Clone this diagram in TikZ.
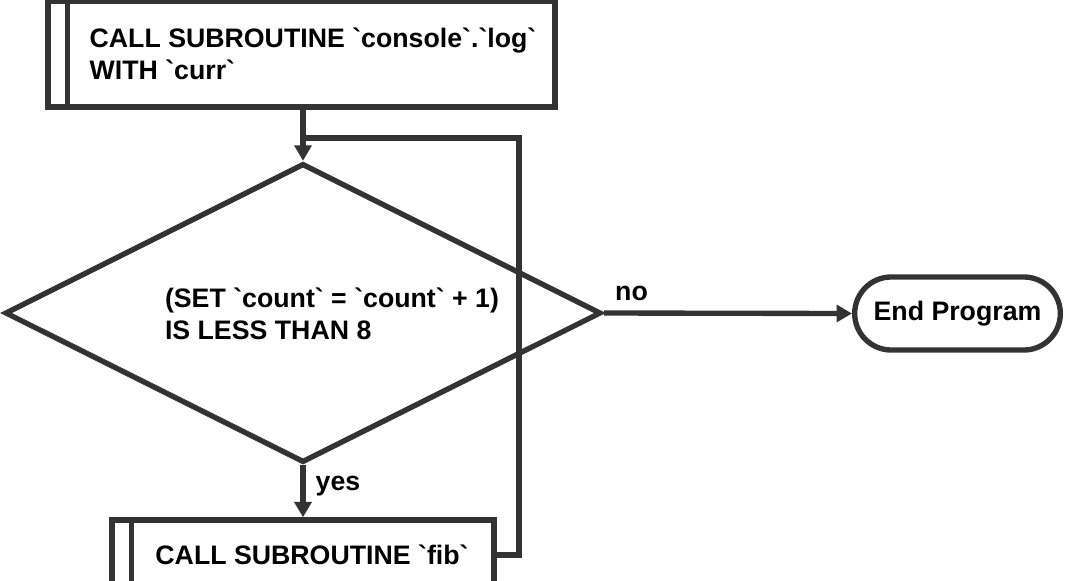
\documentclass[tikz,border=0pt]{standalone}
\usepackage{fontspec}
\newfontfamily\flowfont{Liberation Sans}
\usetikzlibrary{shapes.geometric,shapes.misc,arrows.meta}
\definecolor{linegray}{HTML}{333333}

\begin{document}
\begin{tikzpicture}[
    x=0.025cm,y=-0.025cm,
    txt/.style={font=\flowfont\bfseries\fontsize{19}{22.7}\selectfont,
        align=left,inner sep=0pt},
    subr/.style={draw=linegray,line width=3.8pt},
    bar/.style={draw=linegray,line width=3.8pt},
    decision/.style={diamond,draw=linegray,line width=3.8pt,inner sep=0pt},
    terminal/.style={rounded rectangle,draw=linegray,line width=3.8pt,
        minimum width=5.375cm,minimum height=1.825cm,
        font=\flowfont\bfseries\fontsize{19}{22.7}\selectfont},
    flow/.style={-{Triangle[length=11pt,width=12pt]},draw=linegray,line width=3.8pt}
]
    \useasboundingbox (0,0) rectangle (1082,580);

    \node[subr,minimum width=12.675cm,minimum height=2.65cm] (logbox) at (301.5,54) {};
    \draw[bar] ([xshift=0.55cm]logbox.north west) -- ([xshift=0.55cm]logbox.south west);
    \node[txt] (logtext) at (313,54)
        {CALL SUBROUTINE `console`.`log`\\WITH `curr`};

    \node[decision,minimum width=14.9cm,minimum height=7.475cm] (cond) at (303,313) {};
    \node[txt] (condtext) at (332,314)
        {(SET `count` = `count` + 1)\\IS LESS THAN 8};

    \node[terminal] (endprog) at (957.5,313.5) {End Program};

    \node[subr,minimum width=9.55cm,minimum height=1.75cm] (fibbox) at (303,555) {};
    \draw[bar] ([xshift=0.55cm]fibbox.north west) -- ([xshift=0.55cm]fibbox.south west);
    \node[txt] (fibtext) at (312,555) {CALL SUBROUTINE `fib`};

    \coordinate (loopjoin) at (303,138);
    \coordinate (looptop) at (519,138);

    \draw[flow] (cond.north |- logbox.south) -- (cond.north);
    \draw[flow] (cond.east) -- (endprog.west)
        node[txt,pos=0,anchor=south west,xshift=0.22cm,yshift=0.25cm] {no};
    \draw[flow] (cond.south) -- (fibbox.north)
        node[txt,pos=0.4,anchor=west,xshift=0.25cm] {yes};
    \draw[bar] (fibbox.east) -| (looptop) -- (loopjoin);
\end{tikzpicture}
\end{document}
